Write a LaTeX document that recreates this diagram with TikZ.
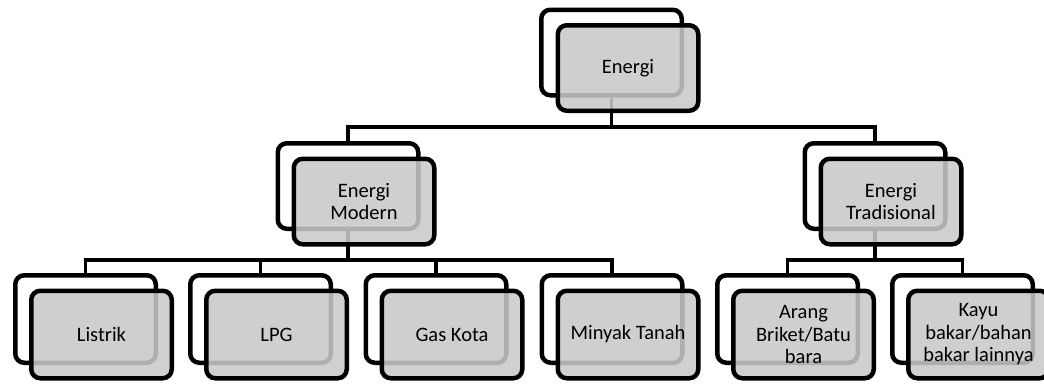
\documentclass[tikz,border=0pt]{standalone}
\usepackage{fontspec}
\setmainfont{Carlito}
\definecolor{boxgray}{RGB}{201,201,201}
\tikzset{
  backbox/.style={draw=black, line width=4.5pt, rounded corners=9pt, fill=white,
    minimum width=140.5pt, minimum height=85.5pt, inner sep=0pt},
  frontbox/.style={backbox, fill=boxgray, fill opacity=0.87, text opacity=1,
    align=center, font=\fontsize{20.5}{22.5}\selectfont},
  lowbox/.style={minimum height=87.5pt},
  conn/.style={draw=black, line width=3.5pt}
}
\begin{document}
\begin{tikzpicture}[x=1pt,y=-1pt]
\useasboundingbox (0,0) rectangle (1044,383);
% back boxes
\node[backbox] (b0) at (611.5,52.5) {};
\node[backbox] (bM) at (348,186) {};
\node[backbox] (bT) at (875,186) {};
\node[backbox,lowbox] (b1) at (85.5,319) {};
\node[backbox,lowbox] (b2) at (260.5,319) {};
\node[backbox,lowbox] (b3) at (436,319) {};
\node[backbox,lowbox] (b4) at (612,319) {};
\node[backbox,lowbox] (b5) at (787.5,319) {};
\node[backbox,lowbox] (b6) at (962.5,319) {};
% connector levels
\coordinate (r1) at (0,127);
\coordinate (r2) at (0,260);
% connectors
\draw[conn] (b0.south) -- (b0.south |- r1) -| (bM.north);
\draw[conn] (b0.south |- r1) -| (bT.north);
\draw[conn] (bM.south) -- (bM.south |- r2) -| (b1.north);
\draw[conn] (bM.south |- r2) -| (b2.north);
\draw[conn] (bM.south |- r2) -| (b3.north);
\draw[conn] (bM.south |- r2) -| (b4.north);
\draw[conn] (bT.south) -- (bT.south |- r2) -| (b5.north);
\draw[conn] (bT.south |- r2) -| (b6.north);
% front boxes
\node[frontbox] (f0) at (628,68) {Energi};
\node[frontbox] (fM) at (364,201.5) {Energi\\Modern};
\node[frontbox] (fT) at (891,201.5) {Energi\\Tradisional};
\node[frontbox,lowbox] (f1) at (101.5,334.5) {Listrik};
\node[frontbox,lowbox] (f2) at (276.5,334.5) {LPG};
\node[frontbox,lowbox] (f3) at (452,334.5) {Gas Kota};
\node[frontbox,lowbox] (f4) at (628,334.5) {Minyak Tanah};
\node[frontbox,lowbox] (f5) at (803.5,334.5) {Arang\\Briket/Batu\\bara};
\node[frontbox,lowbox] (f6) at (978.5,334.5) {Kayu\\bakar/bahan\\bakar lainnya};
\end{tikzpicture}
\end{document}
